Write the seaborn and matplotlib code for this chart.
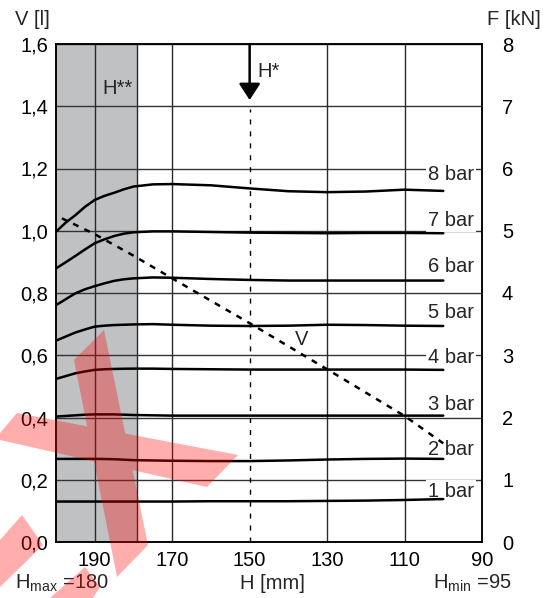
import matplotlib
matplotlib.use("Agg")
import matplotlib.pyplot as plt
import seaborn as sns
import pandas as pd
from matplotlib.path import Path
from matplotlib.patches import PathPatch

# ---------------- data ----------------
H_points = [200, 197.5, 195, 192.5, 190, 187.5, 185, 182.5, 180, 175, 170, 160, 150, 140, 130, 120, 110, 100]
F_8bar = [4.985, 5.13, 5.25, 5.385, 5.495, 5.56, 5.61, 5.665, 5.71, 5.745, 5.75, 5.73, 5.68, 5.635, 5.62, 5.63, 5.66, 5.64]
F_7bar = [4.395, 4.493, 4.595, 4.70, 4.80, 4.862, 4.915, 4.953, 4.975, 4.99, 4.99, 4.98, 4.97, 4.965, 4.96, 4.965, 4.965, 4.96]
F_6bar = [3.805, 3.90, 3.995, 4.06, 4.11, 4.155, 4.195, 4.22, 4.235, 4.25, 4.245, 4.225, 4.21, 4.20, 4.20, 4.20, 4.20, 4.20]
F_5bar = [3.235, 3.30, 3.365, 3.415, 3.46, 3.475, 3.485, 3.49, 3.495, 3.50, 3.49, 3.475, 3.47, 3.475, 3.49, 3.485, 3.475, 3.47]
F_4bar = [2.62, 2.665, 2.71, 2.74, 2.765, 2.775, 2.78, 2.783, 2.785, 2.785, 2.78, 2.775, 2.77, 2.77, 2.77, 2.77, 2.77, 2.765]
F_3bar = [2.015, 2.025, 2.035, 2.045, 2.05, 2.05, 2.05, 2.045, 2.04, 2.035, 2.03, 2.03, 2.03, 2.03, 2.03, 2.03, 2.03, 2.03]
F_2bar = [1.335, 1.335, 1.335, 1.335, 1.335, 1.333, 1.33, 1.322, 1.315, 1.31, 1.305, 1.30, 1.30, 1.31, 1.325, 1.335, 1.34, 1.335]
F_1bar = [0.65, 0.65, 0.65, 0.65, 0.65, 0.65, 0.65, 0.65, 0.65, 0.65, 0.65, 0.655, 0.655, 0.655, 0.66, 0.665, 0.675, 0.69]
pressure_labels = ["8 bar", "7 bar", "6 bar", "5 bar", "4 bar", "3 bar", "2 bar", "1 bar"]
label_F_pos = [5.815, 5.081, 4.342, 3.594, 2.880, 2.120, 1.398, 0.718]

V_H = [198.5, 190, 180, 170, 150, 130, 110, 100]
V_values = [1.040, 0.989, 0.920, 0.847, 0.703, 0.555, 0.405, 0.317]

v_ticks = [0.0, 0.2, 0.4, 0.6, 0.8, 1.0, 1.2, 1.4, 1.6]
v_ticklabels = ["0,0", "0,2", "0,4", "0,6", "0,8", "1,0", "1,2", "1,4", "1,6"]
f_ticks = [0, 1, 2, 3, 4, 5, 6, 7, 8]
f_ticklabels = ["0", "1", "2", "3", "4", "5", "6", "7", "8"]
h_ticks = [190, 170, 150, 130, 110, 90]
h_ticklabels = ["190", "170", "150", "130", "110", "90"]
h_grid = [190, 170, 130, 110]
H_star = 150
H_shade = (200, 179.2)

# ---------------- style ----------------
sns.set_theme(style="white")
plt.rcParams["font.family"] = ["Liberation Sans", "DejaVu Sans"]
plt.rcParams["mathtext.fontset"] = "custom"
plt.rcParams["mathtext.rm"] = "Liberation Sans"
plt.rcParams["mathtext.it"] = "Liberation Sans:italic"
FS = 14.5

W, Hh = 547, 598
fig = plt.figure(figsize=(W / 100, Hh / 100), dpi=100)
fig.patch.set_facecolor("white")
ax = fig.add_axes([56 / W, 1 - 542 / Hh, 426 / W, 498 / Hh])
ax2 = ax.twinx()
ax.set_zorder(ax2.get_zorder() + 1)
ax.patch.set_visible(False)
ax2.patch.set_facecolor("white")

# ---- lower axis (F): shading, grid, curves, labels
ax2.axvspan(H_shade[0], H_shade[1], color="#c0c1c3", zorder=0.2, lw=0)
for h in h_grid + [H_shade[1]]:
    ax2.axvline(h, color="#2a2a2a", lw=1.0, zorder=0.6)
ax2.set_axisbelow(True)
ax2.yaxis.grid(True, color="#333333", lw=1.0)
ax2.xaxis.grid(False)

rows = []
curves = [F_8bar, F_7bar, F_6bar, F_5bar, F_4bar, F_3bar, F_2bar, F_1bar]
for lab, vals in zip(pressure_labels, curves):
    for h, f in zip(H_points, vals):
        rows.append({"H": h, "F": f, "p": lab})
df = pd.DataFrame(rows)
sns.lineplot(data=df, x="H", y="F", hue="p", palette={p: "black" for p in pressure_labels},
             legend=False, ax=ax2, lw=1.8, estimator=None, sort=False, zorder=5)
for lab, fy_ in zip(pressure_labels, label_F_pos):
    ax2.text(92.1, fy_, lab, ha="right", va="baseline", fontsize=FS, zorder=4,
             bbox=dict(facecolor="white", edgecolor="none", pad=1.5))

# ---- upper axis (V): V line, H* marker
sns.lineplot(x=V_H, y=V_values, ax=ax, color="black", lw=1.8,
             linestyle=(0, (2.4, 2.6)), estimator=None, sort=False)
tip_V = 1.42
ax.axvline(H_star, ymin=0, ymax=(tip_V - 0.03) / 1.6, color="black", lw=1.0,
           linestyle=(0, (3.6, 5.0)))
ax.annotate("", xy=(H_star, tip_V), xytext=(H_star, 1.6),
            arrowprops=dict(arrowstyle="-|>,head_length=1.0,head_width=0.65",
                            color="black", lw=1.8, shrinkA=0, shrinkB=0,
                            mutation_scale=10))
ax.text(148.1, 1.494, "H*", fontsize=FS, ha="left", va="baseline")
ax.text(188.1, 1.439, "H**", fontsize=FS, ha="left", va="baseline")
ax.text(138.3, 0.633, "V", fontsize=FS, ha="left", va="baseline")

# ---- axes limits / ticks
ax.set_xlim(200, 90)
ax.set_ylim(0, 1.6)
ax2.set_ylim(0, 8)
ax.set_xticks(h_ticks)
ax.set_xticklabels(h_ticklabels, fontsize=FS)
ax.set_yticks(v_ticks)
ax.set_yticklabels(v_ticklabels, fontsize=FS)
ax2.set_yticks(f_ticks)
ax2.set_yticklabels(f_ticklabels, fontsize=FS)
ax.tick_params(axis="x", length=0, pad=6.5, colors="black")
ax.tick_params(axis="y", length=0, pad=5.5, colors="black")
ax2.tick_params(axis="y", length=0, pad=14.4, colors="black")
for a in (ax, ax2):
    a.set_xlabel("")
    a.set_ylabel("")
    for s in a.spines.values():
        s.set_color("black")
        s.set_linewidth(1.1)

# ---- outer texts
def fx(x):
    return x / W

def fy(y):
    return 1 - y / Hh

fig.text(fx(15), fy(25), "V [l]", fontsize=FS, ha="left", va="baseline")
fig.text(fx(487), fy(25), "F [kN]", fontsize=FS, ha="left", va="baseline")
fig.text(fx(240), fy(589), "H [mm]", fontsize=FS, ha="left", va="baseline")
fig.text(fx(15), fy(589), r"H$_{\mathrm{max}}$ =180", fontsize=FS, ha="left", va="baseline")
fig.text(fx(512), fy(589), r"H$_{\mathrm{min}}$ =95", fontsize=FS, ha="right", va="baseline")

# ---- red X stamp over the picture
polys = [
    [(74, 360), (104, 330), (148, 545), (117, 577)],
    [(17, 413), (238, 455), (207, 487), (0, 440), (0, 433)],
    [(0, 540), (22, 515), (43, 545), (0, 587)],
    [(50, 598), (85, 567), (100, 587), (93, 598)],
]
verts, codes = [], []
for poly in polys:
    pts = [(fx(x), fy(y)) for x, y in poly]
    verts += pts + [pts[0]]
    codes += [Path.MOVETO] + [Path.LINETO] * (len(pts) - 1) + [Path.CLOSEPOLY]
fig.add_artist(PathPatch(Path(verts, codes), transform=fig.transFigure,
                         facecolor="red", edgecolor="none", alpha=0.32, zorder=20))

fig.savefig("out.png", dpi=100)
